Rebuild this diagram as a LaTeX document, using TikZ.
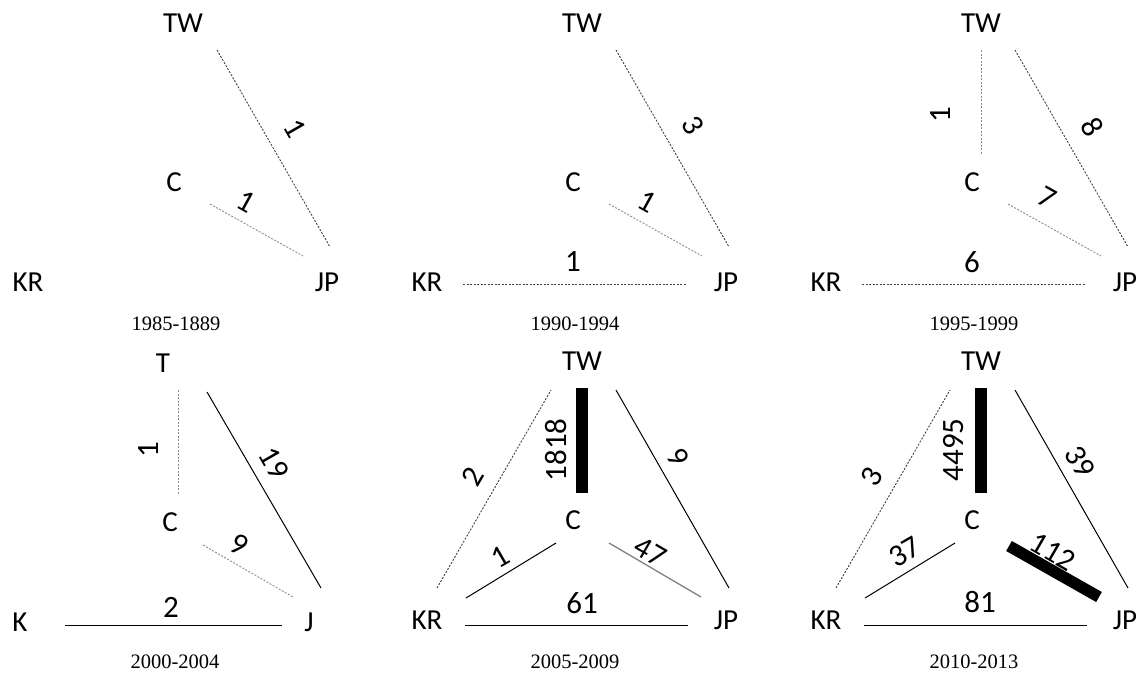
\documentclass[tikz,border=0pt]{standalone}
\usepackage{fontspec}
\setmainfont{Carlito}
\newfontfamily\capfont{Liberation Serif}
\begin{document}
\begin{tikzpicture}[x=1pt, y=-1pt,
    country/.style={font=\fontsize{29}{30}\selectfont, inner sep=0pt},
    count/.style={font=\fontsize{31}{32}\selectfont, inner sep=0pt},
    period/.style={font=\capfont\fontsize{20.5}{22}\selectfont, inner sep=0pt},
    dotlink/.style={line width=0.9pt, dash pattern=on 2pt off 1.5pt, black!75},
    greylink/.style={dotlink, black!45},
    link/.style={line width=1pt},
    greysolid/.style={line width=1.3pt, black!50},
    heavylink/.style={line width=11.5pt}
]
\useasboundingbox (0,0) rectangle (1139,672);

% Countries and period of each panel
% Format: panel, x shift, y shift, period
\foreach \p/\dx/\dy/\per in {
    1/0/0/1985-1889,
    2/399/0/1990-1994,
    3/798/0/1995-1999,
    5/399/338/2005-2009,
    6/798/338/2010-2013
} {
    \begin{scope}[shift={(\dx,\dy)}]
        \node[country] (TW\p) at (183,23) {TW};
        \node[country] (C\p) at (174,182) {C};
        \node[country] (KR\p) at (28,282) {KR};
        \node[country] (JP\p) at (327,282) {JP};
        \node[period] (Y\p) at (176,324) {\per};
    \end{scope}
}
% Panel 2000-2004 uses single letters
\node[country] (TW4) at (163,363) {T};
\node[country] (C4) at (170,522) {C};
\node[country] (KR4) at (20,622) {K};
\node[country] (JP4) at (309,622) {J};
\node[period] (Y4) at (175,662) {2000-2004};

% 1985-1889
\draw[dotlink] ([shift={(34,27)}]TW1.center) -- ([shift={(3,-35)}]JP1.center);
\draw[greylink] ([shift={(36,22)}]C1.center) -- ([shift={(-24,-26)}]JP1.center);
\node[count, rotate=-60] (w1a) at (295,128) {1};
\node[count, rotate=-29] (w1b) at (246,202) {1};

% 1990-1994
\draw[dotlink] ([shift={(34,27)}]TW2.center) -- ([shift={(3,-35)}]JP2.center);
\draw[greylink] ([shift={(36,22)}]C2.center) -- ([shift={(-24,-26)}]JP2.center);
\draw[dotlink] ([shift={(36,2)}]KR2.center) -- ([shift={(-39,2)}]JP2.center);
\node[count, rotate=-60] (w2a) at (693,125) {3};
\node[count, rotate=-29] (w2b) at (647,202) {1};
\node[count] (w2c) at (573,262) {1};

% 1995-1999
\draw[greylink] ([shift={(0,27)}]TW3.center) -- ([shift={(9,-28)}]C3.center);
\draw[dotlink] ([shift={(34,27)}]TW3.center) -- ([shift={(3,-35)}]JP3.center);
\draw[greylink] ([shift={(36,22)}]C3.center) -- ([shift={(-24,-26)}]JP3.center);
\draw[dotlink] ([shift={(36,2)}]KR3.center) -- ([shift={(-39,2)}]JP3.center);
\node[count, rotate=90] (w3a) at (941,115) {1};
\node[count, rotate=-60] (w3b) at (1092,127) {8};
\node[count, rotate=-29] (w3c) at (1047,198) {7};
\node[count] (w3d) at (972,262) {6};

% 2000-2004
\draw[greylink] ([shift={(15,27)}]TW4.center) -- ([shift={(8,-27)}]C4.center);
\draw[link] ([shift={(44,29)}]TW4.center) -- ([shift={(12,-34)}]JP4.center);
\draw[greylink] ([shift={(33,23)}]C4.center) -- ([shift={(-16,-25)}]JP4.center);
\draw[link] ([shift={(45,3)}]KR4.center) -- ([shift={(-27,3)}]JP4.center);
\node[count, rotate=90] (w4a) at (149,450) {1};
\node[count, rotate=-60] (w4b) at (274,463) {19};
\node[count, rotate=-29] (w4c) at (239,545) {9};
\node[count] (w4d) at (171,607) {2};

% 2005-2009
\draw[dotlink] ([shift={(10,-32)}]KR5.center) -- ([shift={(-31,29)}]TW5.center);
\draw[heavylink] ([shift={(0,27)}]TW5.center) -- ([shift={(9,-27)}]C5.center);
\draw[link] ([shift={(34,29)}]TW5.center) -- ([shift={(3,-32)}]JP5.center);
\draw[link] ([shift={(39,-22)}]KR5.center) -- ([shift={(-17,23)}]C5.center);
\draw[greysolid] ([shift={(36,23)}]C5.center) -- ([shift={(-25,-23)}]JP5.center);
\draw[link] ([shift={(38,5)}]KR5.center) -- ([shift={(-38,5)}]JP5.center);
\node[count, rotate=60] (w5a) at (473,477) {2};
\node[count, rotate=90] (w5b) at (556,450) {1818};
\node[count, rotate=-60] (w5c) at (678,457) {9};
\node[count, rotate=30] (w5d) at (500,557) {1};
\node[count, rotate=-30] (w5e) at (650,552) {47};
\node[count] (w5f) at (582,603) {61};

% 2010-2013
\draw[dotlink] ([shift={(10,-32)}]KR6.center) -- ([shift={(-31,29)}]TW6.center);
\draw[heavylink] ([shift={(0,27)}]TW6.center) -- ([shift={(9,-27)}]C6.center);
\draw[link] ([shift={(34,29)}]TW6.center) -- ([shift={(3,-32)}]JP6.center);
\draw[link] ([shift={(39,-22)}]KR6.center) -- ([shift={(-17,23)}]C6.center);
\draw[heavylink] ([shift={(37,26)}]C6.center) -- ([shift={(-26,-23)}]JP6.center);
\draw[link] ([shift={(38,5)}]KR6.center) -- ([shift={(-38,5)}]JP6.center);
\node[count, rotate=60] (w6a) at (872,477) {3};
\node[count, rotate=90] (w6b) at (954,450) {4495};
\node[count, rotate=-60] (w6c) at (1080,462) {39};
\node[count, rotate=30] (w6d) at (905,552) {37};
\node[count, rotate=-30] (w6e) at (1053,552) {112};
\node[count] (w6f) at (980,602) {81};
\end{tikzpicture}
\end{document}
